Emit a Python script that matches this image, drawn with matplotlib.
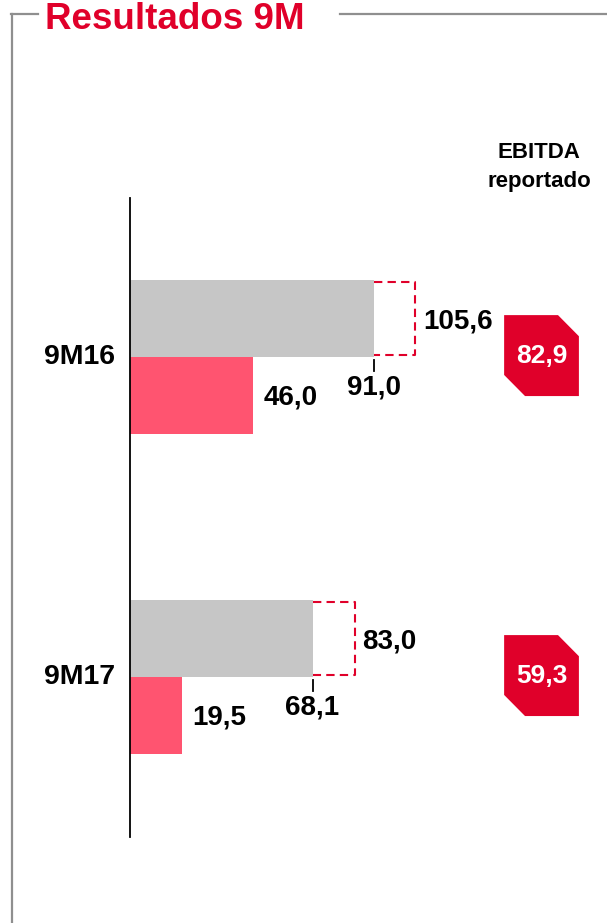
import numpy as np
import matplotlib.pyplot as plt
from matplotlib.patches import Polygon

plt.rcParams['font.family'] = ['Liberation Sans', 'DejaVu Sans']

# data
categories = ["9M16", "9M17"]
grey_values = [91.0, 68.1]      # grey bar
red_values = [46.0, 19.5]       # pink bar
max_values = [105.6, 83.0]      # dashed box end
ebitda_rep = [82.9, 59.3]       # badge values

grey_labels = ["91,0", "68,1"]
red_labels = ["46,0", "19,5"]
max_labels = ["105,6", "83,0"]
ebitda_labels = ["82,9", "59,3"]

GREY = "#C6C6C6"
PINK = "#FF5470"
RED = "#E0002A"
FRAME = "#8F8F8F"

W, H = 607, 923
fig = plt.figure(figsize=(W / 100, H / 100), dpi=100)

# frame + title (pixel coords converted to figure fraction)
def fx(px):
    return px / W

def fy(py):
    return 1 - py / H

fig.add_artist(plt.Line2D([fx(12), fx(12)], [fy(14), fy(923)], color=FRAME, lw=1.6))
fig.add_artist(plt.Line2D([fx(11.3), fx(38)], [fy(14), fy(14)], color=FRAME, lw=1.6))
fig.add_artist(plt.Line2D([fx(340), fx(607)], [fy(13.5), fy(13.5)], color=FRAME, lw=1.6))
fig.text(fx(45), fy(29), "Resultados 9M", color=RED, fontsize=26.5, fontweight='bold',
         ha='left', va='baseline')

# main axes: left spine at x=130 px, from y=198 to y=837 px
ax = fig.add_axes([fx(130), fy(837), (W - 130) / W, (837 - 198) / H])
ax.set_xlim(0, (W - 130) / 2.68)
ax.set_ylim(1.5, -0.497)
for s in ["top", "right", "bottom"]:
    ax.spines[s].set_visible(False)
ax.spines["left"].set_linewidth(1.3)
ax.spines["left"].set_zorder(5)
ax.set_xticks([])
ax.set_yticks([])

y = np.arange(len(categories))
bh = 0.24

ax.barh(y - bh / 2, grey_values, height=bh, color=GREY, zorder=3)
ax.barh(y + bh / 2, red_values, height=bh, color=PINK, zorder=3)

for i in range(len(categories)):
    g, r, m = grey_values[i], red_values[i], max_values[i]
    # dashed open box from grey end to max (top, right, bottom)
    top, bot = y[i] - 0.235, y[i] - 0.007
    xr = m + 0.8
    ax.plot([g, xr, xr, g], [top, top, bot, bot], color=RED, lw=1.5,
            ls=(0, (4, 2.5)), zorder=2)
    # small tick under grey end
    ax.plot([g, g], [y[i] + 0.01, y[i] + 0.045], color='black', lw=1.3, zorder=4)

    ax.text(m + 3.8, y[i] - 0.11, max_labels[i], fontsize=20, fontweight='bold',
            ha='left', va='center')
    ax.text(g, y[i] + 0.094, grey_labels[i], fontsize=20, fontweight='bold',
            ha='center', va='center')
    ax.text(r + 3.7, y[i] + 0.125, red_labels[i], fontsize=20, fontweight='bold',
            ha='left', va='center')
    ax.text(-5.5, y[i], categories[i], fontsize=20.5, fontweight='bold',
            ha='right', va='center')

    # badge with reported EBITDA
    x0, x1 = 139.6, 167.5
    yt, yb = y[i] - 0.131, y[i] + 0.122
    cx, cy = 7.8, 0.066
    badge = Polygon([(x0, yt), (x1 - cx, yt), (x1, yt + cy), (x1, yb),
                     (x0 + cx, yb), (x0, yb - cy)], closed=True,
                    facecolor=RED, edgecolor='none', clip_on=False, zorder=3)
    ax.add_patch(badge)
    ax.text((x0 + x1) / 2, (yt + yb) / 2, ebitda_labels[i], color='white',
            fontsize=19, fontweight='bold', ha='center', va='center', zorder=4)

fig.text(fx(539), fy(152), "EBITDA", fontsize=16, fontweight='bold', ha='center', va='center')
fig.text(fx(539), fy(181), "reportado", fontsize=16, fontweight='bold', ha='center', va='center')

fig.savefig("out.png", dpi=100)
